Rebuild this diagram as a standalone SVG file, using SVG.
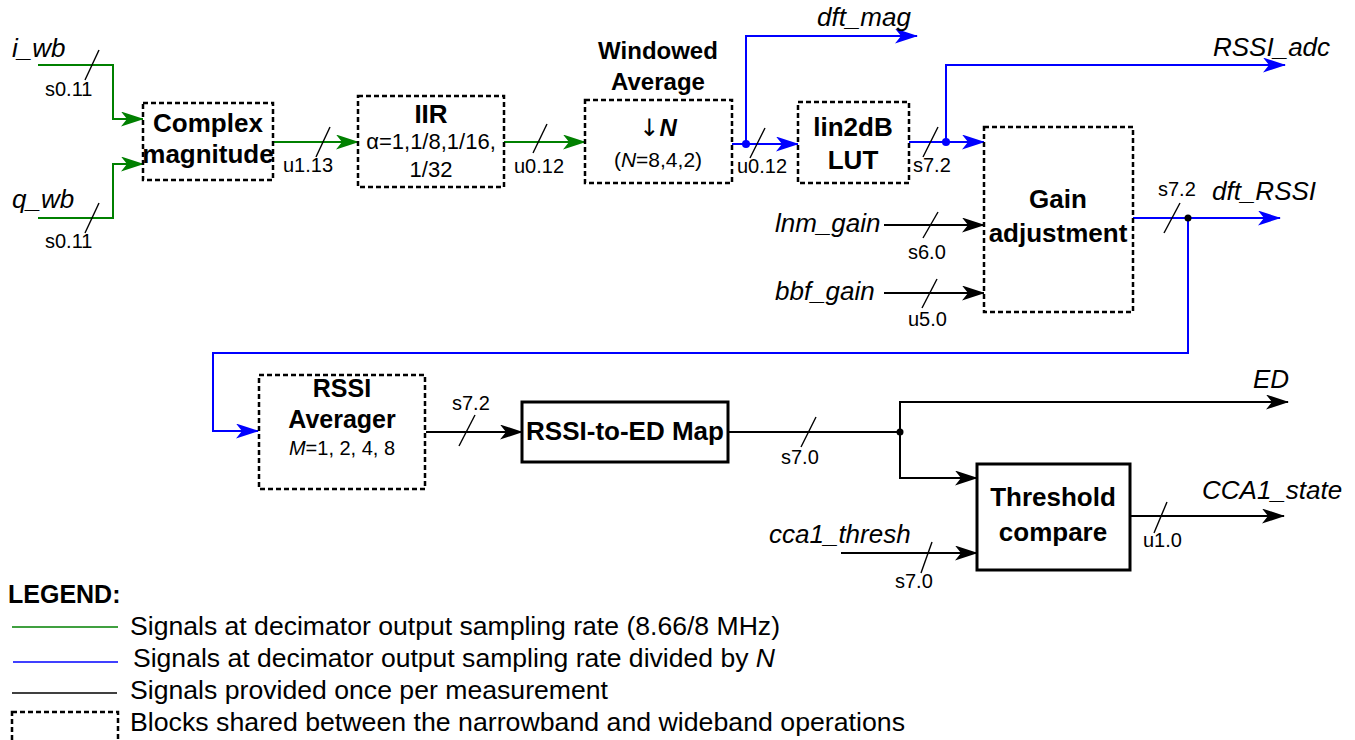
<svg xmlns="http://www.w3.org/2000/svg" width="1355" height="740" viewBox="0 0 1355 740">
<style>
text{font-family:"Liberation Sans",Arial,Helvetica,sans-serif;fill:#000}
.t{font-size:26px;font-weight:bold;text-anchor:middle}
.s{font-size:26px;font-style:italic}
.l{font-size:20px}
.m{font-size:21px;text-anchor:middle}
.g{font-size:25px}
.arr{font-family:"DejaVu Sans",sans-serif;font-weight:normal;font-style:normal}
.db{fill:#fff;stroke:#000;stroke-width:2.5;stroke-dasharray:5,3}
.sb{fill:#fff;stroke:#000;stroke-width:3}
.cg{fill:none;stroke:#008000;stroke-width:2}
.cb{fill:none;stroke:#0000ff;stroke-width:2}
.ck{fill:none;stroke:#000;stroke-width:2}
.tk{stroke:#000;stroke-width:1.4}
</style>
<defs>
<marker id="ag" markerWidth="23" markerHeight="15" refX="22" refY="7.5" orient="auto" markerUnits="userSpaceOnUse"><path d="M0,0 L23,7.5 L0,15 L6,7.5 z" fill="#008000"/></marker>
<marker id="ab" markerWidth="23" markerHeight="15" refX="22" refY="7.5" orient="auto" markerUnits="userSpaceOnUse"><path d="M0,0 L23,7.5 L0,15 L6,7.5 z" fill="#0000ff"/></marker>
<marker id="ak" markerWidth="23" markerHeight="15" refX="22" refY="7.5" orient="auto" markerUnits="userSpaceOnUse"><path d="M0,0 L23,7.5 L0,15 L6,7.5 z" fill="#000"/></marker>
</defs>
<rect width="1355" height="740" fill="#fff"/>

<g id="connectors">
<path class="cg" d="M38,65 H113 V119 H143" marker-end="url(#ag)"/>
<path class="cg" d="M38,218 H113 V164 H143" marker-end="url(#ag)"/>
<path class="cg" d="M273,142 H358" marker-end="url(#ag)"/>
<path class="cg" d="M504,142 H585" marker-end="url(#ag)"/>
<path class="cb" d="M732,144 H798" marker-end="url(#ab)"/>
<path class="cb" d="M746,144 V36 H917" marker-end="url(#ab)"/>
<path class="cb" d="M909,142 H984" marker-end="url(#ab)"/>
<path class="cb" d="M946,142 V65 H1285" marker-end="url(#ab)"/>
<path class="cb" d="M1133,218 H1280" marker-end="url(#ab)"/>
<path class="cb" d="M1188,218 V353 H213 V431 H258" marker-end="url(#ab)"/>
<path class="ck" d="M884,225 H984" marker-end="url(#ak)"/>
<path class="ck" d="M884,293 H984" marker-end="url(#ak)"/>
<path class="ck" d="M426,432 H522" marker-end="url(#ak)"/>
<path class="ck" d="M728,432 H900 V402 H1288" marker-end="url(#ak)"/>
<path class="ck" d="M900,432 V478 H977" marker-end="url(#ak)"/>
<path class="ck" d="M1130,516 H1284" marker-end="url(#ak)"/>
<path class="ck" d="M841,553 H977" marker-end="url(#ak)"/>
<circle cx="746" cy="144" r="4" fill="#0000ff"/>
<circle cx="946" cy="142" r="4" fill="#0000ff"/>
<circle cx="1188" cy="218" r="3.5" fill="#000"/>
<circle cx="900" cy="432" r="3.5" fill="#000"/>
<g>
<line class="tk" x1="99" y1="50" x2="85" y2="80"/>
<line class="tk" x1="99" y1="203" x2="85" y2="233"/>
<line class="tk" x1="330" y1="127" x2="316" y2="157"/>
<line class="tk" x1="547" y1="124" x2="533" y2="153"/>
<line class="tk" x1="765" y1="128" x2="750" y2="158"/>
<line class="tk" x1="938" y1="127" x2="923" y2="157"/>
<line class="tk" x1="938" y1="212" x2="923" y2="238"/>
<line class="tk" x1="937" y1="279" x2="922" y2="308"/>
<line class="tk" x1="1180" y1="203" x2="1164" y2="233"/>
<line class="tk" x1="475" y1="415" x2="459" y2="446"/>
<line class="tk" x1="816" y1="417" x2="801" y2="447"/>
<line class="tk" x1="932" y1="542" x2="921" y2="573"/>
<line class="tk" x1="1167" y1="502" x2="1154" y2="533"/>
</g>
<text class="s" x="12" y="57">i_wb</text>
<text class="s" x="12" y="208">q_wb</text>
<text class="s" x="817" y="26">dft_mag</text>
<text class="s" x="1213" y="56">RSSI_adc</text>
<text class="s" x="1212" y="200">dft_RSSI</text>
<text class="s" x="775" y="232">lnm_gain</text>
<text class="s" x="775" y="300">bbf_gain</text>
<text class="s" x="1253" y="388">ED</text>
<text class="s" x="1202" y="499">CCA1_state</text>
<text class="s" x="769" y="543">cca1_thresh</text>
<text class="l" x="45" y="96">s0.11</text>
<text class="l" x="45" y="248">s0.11</text>
<text class="l" x="283" y="172">u1.13</text>
<text class="l" x="514" y="173">u0.12</text>
<text class="l" x="737" y="173">u0.12</text>
<text class="l" x="913" y="172">s7.2</text>
<text class="l" x="908" y="259">s6.0</text>
<text class="l" x="908" y="326">u5.0</text>
<text class="l" x="1158" y="196">s7.2</text>
<text class="l" x="452" y="410">s7.2</text>
<text class="l" x="781" y="464">s7.0</text>
<text class="l" x="895" y="588">s7.0</text>
<text class="l" x="1143" y="547">u1.0</text>
</g>

<g id="complex-magnitude">
<rect class="db" x="143" y="103" width="130" height="77"/>
<text class="t" x="208" y="132">Complex</text>
<text class="t" x="208" y="163" font-size="25">magnitude</text>
</g>
<g id="iir">
<rect class="db" x="358" y="96" width="146" height="91"/>
<text class="t" x="431" y="123">IIR</text>
<text class="m" x="431" y="149" style="font-size:22px">α=1,1/8,1/16,</text>
<text class="m" x="431" y="177" style="font-size:22px">1/32</text>
</g>
<g id="windowed-average">
<rect class="db" x="585" y="100" width="147" height="83"/>
<text class="t" x="658" y="59" style="font-size:24px">Windowed</text>
<text class="t" x="658" y="90" style="font-size:24px">Average</text>
<text class="m" x="658" y="136" style="font-size:24px"><tspan class="arr">↓</tspan><tspan font-weight="bold" font-style="italic">N</tspan></text>
<text class="m" x="658" y="167">(<tspan font-style="italic">N</tspan>=8,4,2)</text>
</g>
<g id="lin2db-lut">
<rect class="db" x="798" y="102" width="111" height="81"/>
<text class="t" x="853" y="136">lin2dB</text>
<text class="t" x="853" y="169">LUT</text>
</g>
<g id="gain-adjustment">
<rect class="db" x="984" y="127" width="149" height="185"/>
<text class="t" x="1058" y="208">Gain</text>
<text class="t" x="1058" y="242">adjustment</text>
</g>
<g id="rssi-averager">
<rect class="db" x="259" y="375" width="166" height="114"/>
<text class="t" x="342" y="397" style="font-size:25px">RSSI</text>
<text class="t" x="342" y="428" style="font-size:25px">Averager</text>
<text class="m" x="342" y="455" style="font-size:20px"><tspan font-style="italic">M</tspan>=1, 2, 4, 8</text>
</g>
<g id="rssi-to-ed-map">
<rect class="sb" x="522" y="402" width="206" height="60"/>
<text class="t" x="625" y="440">RSSI-to-ED Map</text>
</g>
<g id="threshold-compare">
<rect class="sb" x="977" y="464" width="153" height="106"/>
<text class="t" x="1053" y="506">Threshold</text>
<text class="t" x="1053" y="541">compare</text>
</g>

<g id="legend">
<text x="8" y="603" style="font-size:25px;font-weight:bold">LEGEND:</text>
<line x1="12" y1="627" x2="118" y2="627" stroke="#008000" stroke-width="1.5"/>
<line x1="13" y1="662" x2="118" y2="662" stroke="#0000ff" stroke-width="1.5"/>
<line x1="12" y1="693" x2="117" y2="693" stroke="#000" stroke-width="1.5"/>
<rect x="12" y="712" width="106" height="40" fill="none" stroke="#000" stroke-width="2.5" stroke-dasharray="5,3"/>
<text class="g" x="130" y="635" textLength="650" lengthAdjust="spacingAndGlyphs">Signals at decimator output sampling rate (8.66/8 MHz)</text>
<text class="g" x="133" y="667" textLength="642" lengthAdjust="spacingAndGlyphs">Signals at decimator output sampling rate divided by <tspan font-style="italic">N</tspan></text>
<text class="g" x="130" y="699" textLength="478" lengthAdjust="spacingAndGlyphs">Signals provided once per measurement</text>
<text class="g" x="130" y="731" textLength="775" lengthAdjust="spacingAndGlyphs">Blocks shared between the narrowband and wideband operations</text>
</g>
</svg>
